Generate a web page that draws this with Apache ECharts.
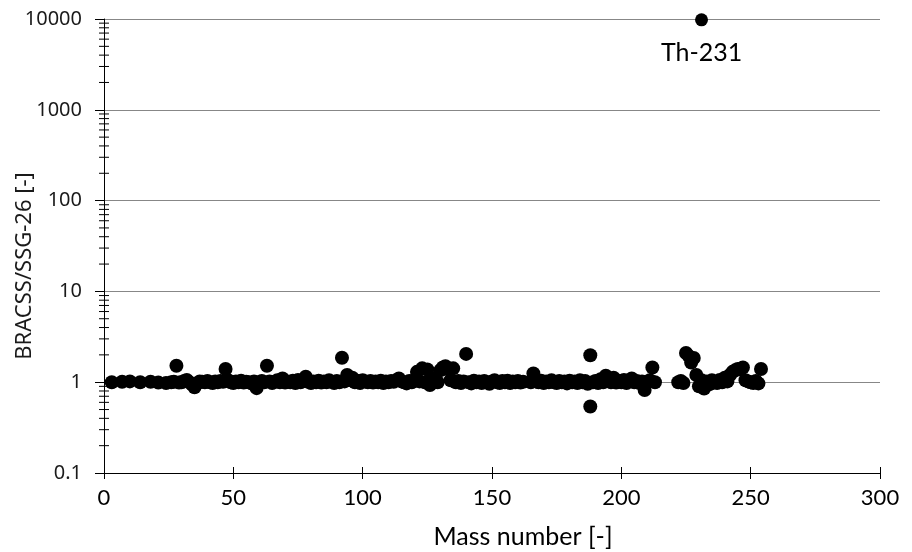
<!DOCTYPE html>
<html>
<head>
<meta charset="utf-8">
<script src="https://cdn.jsdelivr.net/npm/echarts@6/dist/echarts.min.js"></script>
<style>html,body{margin:0;padding:0;background:#fff}#c{width:912px;height:552px}</style>
</head>
<body>
<div id="c"></div>
<script>
const xTicks = [0, 50, 100, 150, 200, 250, 300];
const yTicks = [0.1, 1, 10, 100, 1000, 10000];
const yMinorTicks = [0.2,0.3,0.4,0.5,0.6,0.7,0.8,0.9,2,3,4,5,6,7,8,9,20,30,40,50,60,70,80,90,200,300,400,500,600,700,800,900,2000,3000,4000,5000,6000,7000,8000,9000];

const massNumbers = [
 3,7,10,14,18,21,24,26,27,28,
 29,30,31,32,33,34,35,36,37,38,
 39,40,41,42,43,44,45,46,47,48,
 49,50,51,52,53,54,55,56,57,58,
 59,60,61,62,63,64,65,66,67,68,
 69,70,71,72,73,74,75,76,77,78,
 79,80,81,82,83,84,85,86,87,88,
 89,90,91,92,93,94,95,96,97,98,
 99,100,101,102,103,104,105,106,107,108,
 109,110,111,112,113,114,115,116,117,118,
 119,120,121,122,123,124,125,126,127,128,
 129,130,131,132,133,134,135,136,137,138,
 139,140,141,142,143,144,145,146,147,148,
 149,150,151,152,153,154,155,156,157,158,
 159,160,161,162,165,166,167,168,169,170,
 171,172,173,174,175,176,177,178,179,180,
 181,182,183,184,185,186,187,188,188,189,
 190,191,192,193,194,195,196,197,198,199,
 200,201,202,203,204,205,206,207,208,209,
 210,211,212,213,
 222,223,224,225,226,227,228,229,230,231,
 232,233,234,235,236,237,238,239,240,241,
 242,243,244,245,246,247,248,249,250,251,
 252,253,254
];
const ratios = [
 1.00,1.01,1.02,1.00,1.01,0.99,0.98,1.00,1.01,1.52,
 0.99,1.00,1.03,1.06,1.00,0.95,0.88,0.97,1.02,1.01,
 1.00,1.03,1.00,0.98,1.02,1.00,1.03,1.01,1.40,1.05,
 1.00,0.98,1.02,1.00,1.04,0.99,1.01,1.00,0.97,1.02,
 0.86,1.00,1.03,1.00,1.52,1.02,0.98,1.01,1.05,1.00,
 1.10,0.99,1.02,1.00,1.04,0.98,1.06,1.00,1.03,1.15,
 1.01,0.98,1.02,1.00,1.04,0.99,1.02,1.00,1.05,1.01,
 0.98,1.03,1.00,1.86,1.02,1.20,1.06,1.12,1.00,1.04,
 0.98,1.05,1.02,1.00,1.03,0.99,1.02,1.00,1.04,0.98,
 1.02,1.00,1.03,1.01,1.05,1.10,1.02,1.00,0.97,1.03,
 1.00,1.06,1.30,1.02,1.42,1.00,1.38,0.93,1.10,1.02,
 1.00,1.35,1.45,1.50,1.40,1.05,1.42,1.00,1.03,0.98,
 1.02,2.05,1.00,0.97,1.04,1.00,1.02,0.98,1.03,1.00,
 0.96,1.02,1.05,1.00,0.98,1.03,1.00,1.04,0.98,1.02,
 1.00,1.03,0.99,1.01,1.00,1.25,1.02,1.00,1.04,0.98,
 1.02,1.00,1.05,1.00,0.98,1.03,1.00,1.02,0.97,1.04,
 1.00,1.02,0.98,1.05,1.00,1.03,0.96,1.98,0.54,1.00,
 1.03,0.98,1.08,1.00,1.18,1.05,1.00,1.12,0.99,1.04,
 1.00,1.06,0.98,1.02,1.10,1.00,1.03,0.98,1.02,0.82,
 1.00,1.05,1.45,1.00,
 1.00,1.03,0.98,2.10,1.95,1.65,1.85,1.20,0.90,1.05,
 0.85,1.02,0.95,1.05,1.00,0.98,1.06,1.00,1.12,1.02,
 1.20,1.30,1.35,1.40,1.38,1.45,1.05,1.02,1.00,0.98,
 1.03,0.97,1.40
];
const thMass = [231];
const thRatio = [9800];
const thLabel = 'Th-231';

const chart = echarts.init(document.getElementById('c'), null, {renderer: 'canvas'});
const fmt = v => String(+Number(v).toPrecision(6));

chart.setOption({
  animation: false,
  grid: {left: 104, right: 32, top: 19, bottom: 79},
  xAxis: [{
    type: 'value', min: 0, max: 300, interval: 50,
    axisLine: {show: true, onZero: false, lineStyle: {color: '#000', width: 1}},
    axisTick: {show: true, inside: false, length: 6, lineStyle: {color: '#000'}},
    axisLabel: {show: true, margin: 14, color: '#000', fontFamily: 'Lato', fontSize: 22, formatter: fmt},
    splitLine: {show: false}
  }, {
    type: 'value', min: 0, max: 300, interval: 50, position: 'bottom',
    axisLine: {show: false, onZero: false},
    axisTick: {show: true, inside: true, length: 6, lineStyle: {color: '#000'}},
    axisLabel: {show: false},
    splitLine: {show: false}
  }],
  yAxis: {
    type: 'log', logBase: 10, min: 0.1, max: 10000, interval: 1,
    axisLine: {show: true, onZero: false, lineStyle: {color: '#000', width: 1}},
    axisTick: {show: true, inside: false, length: 9, lineStyle: {color: '#000'}},
    axisLabel: {margin: 22, color: '#1a1a1a', fontFamily: 'Noto Sans', fontSize: 20, formatter: fmt},
    splitLine: {show: true, lineStyle: {color: '#878787', width: 1}}
  },
  graphic: [
    {type: 'text', x: 25, y: 266, rotation: Math.PI / 2,
     style: {text: 'BRACSS/SSG-26 [-]', fill: '#1a1a1a', font: '22px "Noto Sans"', textAlign: 'center', textVerticalAlign: 'middle'}},
    {type: 'text', x: 523, y: 537,
     style: {text: 'Mass number [-]', fill: '#000', font: '25px Lato', textAlign: 'center', textVerticalAlign: 'middle'}}
  ],
  series: [
    {
      type: 'custom', clip: false, silent: true, z: 3,
      data: yMinorTicks.map(v => [0, v]),
      renderItem: (params, api) => {
        const p = api.coord([0, api.value(1)]);
        return {type: 'line', shape: {x1: p[0] - 5, y1: p[1], x2: p[0] + 5, y2: p[1]},
          style: {stroke: '#000', lineWidth: 1}};
      }
    },
    {
      type: 'scatter', symbol: 'circle', symbolSize: 14, z: 5,
      itemStyle: {color: '#000', opacity: 1},
      data: massNumbers.map((m, i) => [m, ratios[i]])
    },
    {
      type: 'scatter', symbol: 'circle', symbolSize: 13, z: 5,
      itemStyle: {color: '#000', opacity: 1},
      label: {show: true, position: 'bottom', distance: 14, formatter: thLabel, color: '#000', fontFamily: 'Lato', fontSize: 25},
      data: thMass.map((m, i) => [m, thRatio[i]])
    }
  ]
});
</script>
</body>
</html>
